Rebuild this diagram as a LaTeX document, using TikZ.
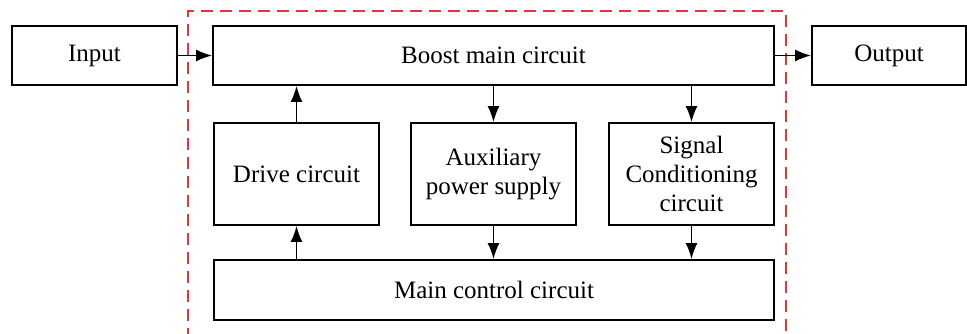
\documentclass[tikz,border=0pt]{standalone}
\usepackage{fontspec}
\setmainfont{Liberation Serif}
\usetikzlibrary{arrows.meta}
\definecolor{frameRed}{RGB}{232,52,62}

\begin{document}
\begin{tikzpicture}[x=1pt, y=-1pt,
  block/.style={draw, line width=1.8pt, align=center, inner sep=0pt,
    font=\fontsize{25}{29}\selectfont},
  link/.style={line width=1.8pt, -{Latex[length=16pt,width=12pt]}}]
\useasboundingbox (0,0) rectangle (967,334);

\draw[frameRed, line width=1.6pt, dash pattern=on 12pt off 7pt] (188,340) -- (188,11) -- (786,11) -- (786,340);

\node[block, minimum width=165pt, minimum height=59pt] (input) at (94.5,55.5) {Input};
\node[block, minimum width=561pt, minimum height=59pt] (boost) at (493.5,55.5) {Boost main circuit};
\node[block, minimum width=154pt, minimum height=59pt] (output) at (889,55.5) {Output};

\node[block, minimum width=165pt, minimum height=102pt] (drive) at (296.5,174) {Drive circuit};
\node[block, minimum width=165pt, minimum height=102pt] (aux) at (493.5,174) {Auxiliary\\power supply};
\node[block, minimum width=165pt, minimum height=102pt] (signal) at (691.5,174) {Signal\\Conditioning\\circuit};

\node[block, minimum width=560pt, minimum height=60pt] (main) at (494,290) {Main control circuit};

\draw[link] (input) -- (boost);
\draw[link] (boost) -- (output);
\draw[link] (drive) -- (drive |- boost.south);
\draw[link] (boost.south -| aux) -- (aux);
\draw[link] (boost.south -| signal) -- (signal);
\draw[link] (main.north -| drive) -- (drive);
\draw[link] (aux) -- (aux |- main.north);
\draw[link] (signal) -- (signal |- main.north);
\end{tikzpicture}
\end{document}
